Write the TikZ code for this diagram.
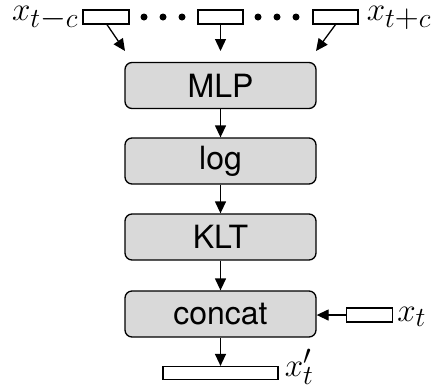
\documentclass[tikz,border=0pt]{standalone}
\usepackage{graphicx}
\usepackage{fontspec}
\setsansfont{TeX Gyre Heros}
\usetikzlibrary{arrows.meta}
\newcommand{\biglbl}[1]{\scalebox{1.33}{$#1$}}
\begin{document}
\begin{tikzpicture}[x=1pt,y=-1pt,
  proc/.style={draw, line width=1.3pt, fill=black!15, rounded corners=7pt,
    minimum width=191pt, minimum height=46pt, inner sep=0pt,
    font=\sffamily\fontsize{32}{36}\selectfont},
  vec/.style={draw, line width=1.2pt, fill=white, minimum height=14pt, inner sep=0pt},
  arr/.style={-{Triangle[length=12pt,width=11pt]}, line width=1.3pt},
  lbl/.style={inner sep=0pt, font=\fontsize{24.88}{30}\selectfont},
  dotc/.style={circle, fill=black, minimum size=7pt, inner sep=0pt}
]
\useasboundingbox (0,0) rectangle (435,389);
% processing boxes
\node[proc] (mlp) at (220.5,85.5) {MLP};
\node[proc] (log) at (220.5,161) {log};
\node[proc] (klt) at (220.5,237) {KLT};
\node[proc] (cat) at (220.5,314) {concat};
% input vectors
\node[vec, minimum width=46pt] (vl) at (106,17) {};
\node[vec, minimum width=45pt] (vm) at (220.5,17) {};
\node[vec, minimum width=45pt] (vr) at (335.5,17) {};
\node[lbl, anchor=base east] (ll) at ([xshift=-4pt,yshift=-3pt]vl.west) {\biglbl{x_{t{\textstyle -}c}}};
\node[lbl, anchor=base west] (lr) at ([xshift=8pt,yshift=-3pt]vr.east) {\biglbl{x_{t{\textstyle +}c}}};
% dots
\node[dotc] (d1) at (144,17) {};
\node[dotc] (d2) at (163,17) {};
\node[dotc] (d3) at (182,17) {};
\node[dotc] (d4) at (258,17) {};
\node[dotc] (d5) at (277,17) {};
\node[dotc] (d6) at (296,17) {};
% free ends of top arrows
\coordinate (el) at (125,51);
\coordinate (em) at (220.5,51);
\coordinate (er) at (316,51);
\draw[arr] (vl.south) ++(1,0) -- (el);
\draw[arr] (vm.south) -- (em);
\draw[arr] (vr.south) -- (er);
% chain
\draw[arr] (mlp) -- (log);
\draw[arr] (log) -- (klt);
\draw[arr] (klt) -- (cat);
% x_t
\node[vec, minimum width=46pt] (xt) at (369.5,315) {};
\node[lbl, anchor=base west] (xtl) at ([xshift=4pt,yshift=-6pt]xt.east) {\biglbl{x_t}};
\draw[arr] (xt.west) -- (cat.east |- xt.west);
% output
\node[vec, minimum width=115pt, minimum height=13pt] (xo) at (220.5,373) {};
\node[lbl, anchor=base west] (xol) at ([xshift=6pt,yshift=-3pt]xo.east) {\biglbl{x'_t}};
\draw[arr] (cat) -- (xo);
\end{tikzpicture}
\end{document}
